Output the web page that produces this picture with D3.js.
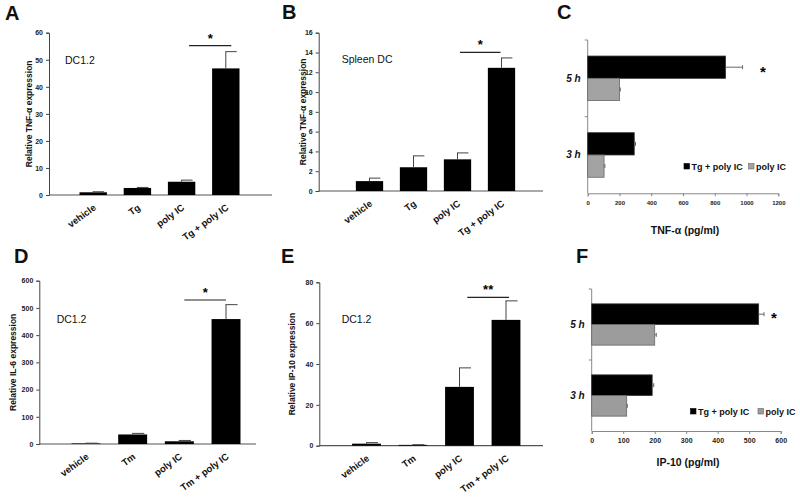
<!DOCTYPE html>
<html><head><meta charset="utf-8">
<script src="https://cdn.jsdelivr.net/npm/d3@7/dist/d3.min.js"></script>
<style>
body{margin:0;background:#fff;}
svg{display:block;font-family:"Liberation Sans",Arial,sans-serif;}
</style></head>
<body>
<svg id="c" width="800" height="501"></svg>
<script>
// ---------- DATA ----------
const catsTg = ["vehicle", "Tg", "poly IC", "Tg + poly IC"];
const catsTm = ["vehicle", "Tm", "poly IC", "Tm + poly IC"];
const valsA = [1.0, 2.6, 4.9, 46.8];
const errA  = [0.2, 0.2, 0.6, 6.2];
const valsB = [1.0, 2.4, 3.2, 12.45];
const errB  = [0.3, 1.15, 0.65, 1.0];
const valsD = [2, 35, 10, 459];
const errD  = [1, 4, 3, 53];
const valsE = [1.0, 0.4, 28.8, 61.6];
const errE  = [0.5, 0.1, 9.3, 9.3];
const ticksA = [0, 10, 20, 30, 40, 50, 60];
const ticksB = [0, 2, 4, 6, 8, 10, 12, 14, 16];
const ticksD = [0, 100, 200, 300, 400, 500, 600];
const ticksE = [0, 20, 40, 60, 80];

const times = ["5 h", "3 h"];
const seriesNames = ["Tg + poly IC", "poly IC"];
const tgC = [868, 293];
const polyC = [200, 103];
const errTgC = [107, 8];
const errPolyC = [5, 5];
const ticksC = [0, 200, 400, 600, 800, 1000, 1200];
const tgF = [530, 192];
const polyF = [200, 111];
const errTgF = [17, 5];
const errPolyF = [5, 2];
const ticksF = [0, 100, 200, 300, 400, 500, 600];

// ---------- DRAW ----------
const svg = d3.select("#c");
const FONT = "'Liberation Sans', Arial, sans-serif";

function panelLabel(t, x, y) {
  svg.append("text").attr("x", x).attr("y", y).text(t)
    .attr("font-size", 20).attr("font-weight", "bold").attr("fill", "#111");
}

function vPanel(o) {
  const g = svg.append("g");
  const x = d3.scaleBand().domain(o.cats).range(o.xr).paddingInner(0.38).paddingOuter(0.69);
  const y = d3.scaleLinear().domain([0, o.max]).range(o.yr);
  const ya = d3.axisLeft(y).tickValues(o.ticks).tickFormat(d3.format("d")).tickSize(3).tickPadding(3);
  const yg = g.append("g").attr("transform", `translate(${o.ax},0)`).call(ya);
  yg.select(".domain").attr("stroke", "#444");
  yg.selectAll(".tick line").attr("stroke", "#444");
  yg.selectAll("text").attr("font-size", 7).attr("font-weight", "bold").attr("fill", "#222").attr("font-family", FONT);
  g.append("line").attr("x1", o.ax).attr("x2", o.axEnd).attr("y1", y(0)).attr("y2", y(0))
    .attr("stroke", "#555").attr("stroke-width", 1.2);
  g.selectAll("rect.bar").data(o.vals).join("rect")
    .attr("x", (d, i) => x(o.cats[i])).attr("width", x.bandwidth())
    .attr("y", d => y(d)).attr("height", d => y(0) - y(d)).attr("fill", "#000");
  o.vals.forEach((v, i) => {
    const cx = x(o.cats[i]) + x.bandwidth() / 2;
    const top = y(v + o.err[i]);
    g.append("line").attr("x1", cx).attr("x2", cx).attr("y1", y(v)).attr("y2", top)
      .attr("stroke", "#444").attr("stroke-width", 1);
    g.append("line").attr("x1", cx - 0.5).attr("x2", cx + x.bandwidth() * 0.4).attr("y1", top).attr("y2", top)
      .attr("stroke", "#444").attr("stroke-width", 1);
  });
  o.cats.forEach((c, i) => {
    const cx = x(c) + x.bandwidth() / 2;
    g.append("text").attr("transform", `translate(${cx + 3.5},${y(0) + 14}) rotate(-36)`)
      .attr("text-anchor", "end").attr("font-size", 9.5).attr("font-weight", "bold").attr("fill", "#111")
      .text(c);
  });
  g.append("text").attr("transform", `translate(${o.tx},${(o.yr[0] + o.yr[1]) / 2}) rotate(-90)`)
    .attr("text-anchor", "middle").attr("font-size", 8.5).attr("font-weight", "bold").attr("fill", "#111")
    .text(o.title);
  g.append("text").attr("x", o.lx).attr("y", o.ly).attr("font-size", 10.5).attr("fill", "#111").text(o.label);
  const c2 = x(o.cats[2]) + x.bandwidth() / 2, c3 = x(o.cats[3]) + x.bandwidth() / 2;
  g.append("line").attr("x1", c2 + o.sig0).attr("x2", c3 + o.sig1).attr("y1", o.sy).attr("y2", o.sy)
    .attr("stroke", "#222").attr("stroke-width", 1.2);
  g.append("text").attr("x", (c2 + o.sig0 + c3 + o.sig1) / 2).attr("y", o.sy - 3)
    .attr("text-anchor", "middle").attr("font-size", 13).attr("font-weight", "bold").text(o.star);
}

function hPanel(o) {
  const g = svg.append("g");
  const x = d3.scaleLinear().domain([0, o.max]).range(o.xr);
  const yb = d3.scaleBand().domain(times).range(o.yr);
  const ys = d3.scaleBand().domain(seriesNames).range([0, yb.bandwidth()]).paddingOuter(0.72);
  const axisY = o.yr[1];
  const xa = d3.axisBottom(x).tickValues(o.ticks).tickFormat(d3.format("d")).tickSize(3).tickPadding(4);
  const xg = g.append("g").attr("transform", `translate(0,${axisY})`).call(xa);
  xg.select(".domain").attr("stroke", "#888");
  xg.selectAll(".tick line").attr("stroke", "#888");
  xg.selectAll("text").attr("font-size", o.tfs).attr("font-weight", "bold").attr("fill", "#222").attr("font-family", FONT);
  g.append("line").attr("x1", o.xr[0]).attr("x2", o.xr[0]).attr("y1", o.yr[0]).attr("y2", axisY)
    .attr("stroke", "#888");
  [o.yr[0], o.yr[0] + yb.bandwidth()].forEach(t => {
    g.append("line").attr("x1", o.xr[0] - 3).attr("x2", o.xr[0]).attr("y1", t).attr("y2", t).attr("stroke", "#888");
  });
  const sets = [[o.tg, o.etg, "#000", "#333"], [o.poly, o.epoly, o.gray, "#666"]];
  sets.forEach((s, si) => {
    s[0].forEach((v, i) => {
      const yy = yb(times[i]) + ys(seriesNames[si]);
      g.append("rect").attr("x", x(0)).attr("y", yy).attr("width", x(v) - x(0)).attr("height", ys.bandwidth())
        .attr("fill", s[2]).attr("stroke", s[3]).attr("stroke-width", 0.8);
      const cy = yy + ys.bandwidth() / 2;
      g.append("line").attr("x1", x(v)).attr("x2", x(v + s[1][i])).attr("y1", cy).attr("y2", cy)
        .attr("stroke", "#666").attr("stroke-width", 1);
      g.append("line").attr("x1", x(v + s[1][i])).attr("x2", x(v + s[1][i])).attr("y1", cy - 2).attr("y2", cy + 2)
        .attr("stroke", "#666").attr("stroke-width", 1);
    });
  });
  times.forEach(t => {
    g.append("text").attr("x", o.xr[0] - 7).attr("y", yb(t) + yb.bandwidth() / 2 + 3.5)
      .attr("text-anchor", "end").attr("font-size", 10).attr("font-weight", "bold").attr("font-style", "italic")
      .attr("fill", "#111").text(t);
  });
  g.append("text").attr("x", o.ttx).attr("y", o.tty).attr("text-anchor", "middle")
    .attr("font-size", 10.5).attr("font-weight", "bold").attr("fill", "#111").text(o.title);
  g.append("text").attr("x", o.sx).attr("y", o.sy).attr("text-anchor", "middle")
    .attr("font-size", 15).attr("font-weight", "bold").text("*");
  const lg = [[o.lx0, "#000", "#000"], [o.lx1, o.gray, "#666"]];
  lg.forEach((l, i) => {
    g.append("rect").attr("x", l[0]).attr("y", o.ly - 6.5).attr("width", 5.5).attr("height", 5.5)
      .attr("fill", l[1]).attr("stroke", l[2]).attr("stroke-width", 0.6);
    g.append("text").attr("x", l[0] + 7.5).attr("y", o.ly).attr("font-size", 9).attr("font-weight", "bold")
      .attr("fill", "#111").text(seriesNames[i]);
  });
}

panelLabel("A", 5, 20);
panelLabel("B", 282, 19);
panelLabel("C", 557, 19);
panelLabel("D", 14, 263);
panelLabel("E", 281, 263);
panelLabel("F", 576, 263);

vPanel({cats: catsTg, vals: valsA, err: errA, ticks: ticksA, max: 60, xr: [49, 270], yr: [195, 32.7],
  ax: 49, axEnd: 272, tx: 32, title: "Relative TNF-α expression", label: "DC1.2", lx: 65, ly: 64,
  sy: 45.7, sig0: 7.5, sig1: 5.5, star: "*"});
vPanel({cats: catsTg, vals: valsB, err: errB, ticks: ticksB, max: 16, xr: [325.5, 545.5], yr: [191, 32.7],
  ax: 318.7, axEnd: 543, tx: 305.5, title: "Relative TNF-α expression", label: "Spleen DC", lx: 341.7, ly: 63.3,
  sy: 52.3, sig0: 2.5, sig1: -1, star: "*"});
vPanel({cats: catsTm, vals: valsD, err: errD, ticks: ticksD, max: 600, xr: [39.3, 272.7], yr: [444, 280.7],
  ax: 39.3, axEnd: 256, tx: 16, title: "Relative IL-6 expression", label: "DC1.2", lx: 56.7, ly: 322.7,
  sy: 300, sig0: 5, sig1: 0, star: "*"});
vPanel({cats: catsTm, vals: valsE, err: errE, ticks: ticksE, max: 80, xr: [320, 552.5], yr: [445.7, 282.3],
  ax: 319.3, axEnd: 543, tx: 294.5, title: "Relative IP-10 expression", label: "DC1.2", lx: 341.7, ly: 322.7,
  sy: 297.3, sig0: 7.8, sig1: 3, star: "**"});

hPanel({max: 1200, ticks: ticksC, xr: [587.7, 778.3], yr: [40, 193.3], tg: tgC, poly: polyC, etg: errTgC, epoly: errPolyC,
  gray: "#a3a3a3", tfs: 6, title: "TNF-α (pg/ml)", ttx: 685, tty: 234, sx: 763, sy: 77,
  lx0: 684, lx1: 748.5, ly: 170});
hPanel({max: 600, ticks: ticksF, xr: [591.7, 780.7], yr: [289, 431], tg: tgF, poly: polyF, etg: errTgF, epoly: errPolyF,
  gray: "#9c9c9c", tfs: 7, title: "IP-10 (pg/ml)", ttx: 688, tty: 466, sx: 774, sy: 323,
  lx0: 690.5, lx1: 758, ly: 415});
</script>
</body></html>
